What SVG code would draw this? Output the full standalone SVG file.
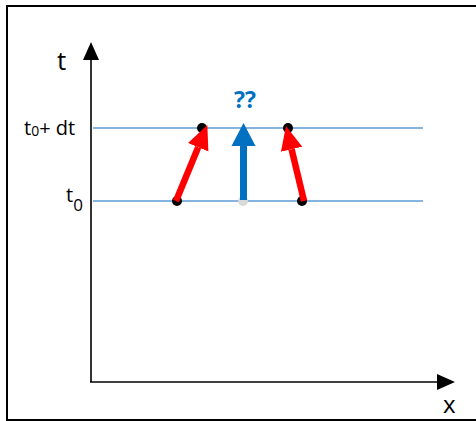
<svg xmlns="http://www.w3.org/2000/svg" width="476" height="421" viewBox="0 0 476 421">
<style>
.lbl{font-family:"Open Sans","Liberation Sans",sans-serif;fill:#000}
.grid{stroke:#5B9BD5;stroke-width:1.3;fill:none}
.axis{stroke:#000;stroke-width:1.6;fill:none}
.red{stroke:#FF0000;stroke-width:6.5;fill:none}
.blue{stroke:#0070C0;stroke-width:7;fill:none}
.dot{fill:#000}
</style>
<defs>
<marker id="ah" markerUnits="userSpaceOnUse" markerWidth="20" markerHeight="20" refX="0" refY="8" orient="auto" viewBox="0 0 20 16"><path d="M0,0 L18,8 L0,16 z" fill="#000"/></marker>
<marker id="rh" markerUnits="userSpaceOnUse" markerWidth="26" markerHeight="24" refX="0" refY="11" orient="auto" viewBox="0 0 26 22"><path d="M0,0 L24,11 L0,22 z" fill="#FF0000"/></marker>
<marker id="bh" markerUnits="userSpaceOnUse" markerWidth="26" markerHeight="26" refX="0" refY="12" orient="auto" viewBox="0 0 26 24"><path d="M0,0 L23,12 L0,24 z" fill="#0070C0"/></marker>
</defs>
<rect x="7" y="6" width="480" height="414" fill="#fff" stroke="#000" stroke-width="2"/>
<g id="gridlines">
<line class="grid" x1="93" y1="128" x2="423" y2="128"/>
<line class="grid" x1="93" y1="201" x2="423" y2="201"/>
</g>
<g id="axes">
<path class="axis" d="M91,382 L91,60" marker-end="url(#ah)"/>
<path class="axis" d="M90,382 L437,382" marker-end="url(#ah)"/>
</g>
<g id="labels">
<text class="lbl" x="57" y="70" font-size="26">t</text>
<text class="lbl" x="24" y="135" font-size="20">t<tspan font-size="14" dy="1">0</tspan><tspan dy="-1">+ dt</tspan></text>
<text class="lbl" x="66" y="202" font-size="20">t<tspan font-size="17" dy="9">0</tspan></text>
<text class="lbl" x="443" y="413" font-size="24">x</text>
<text x="245" y="108" font-size="23" font-weight="bold" fill="#0070C0" text-anchor="middle" font-family="Open Sans, Liberation Sans, sans-serif">??</text>
</g>
<g id="points">
<circle class="dot" cx="177" cy="201" r="5"/>
<circle class="dot" cx="202" cy="128" r="5"/>
<circle class="dot" cx="288" cy="128" r="5"/>
<circle class="dot" cx="302" cy="201" r="5"/>
<circle cx="243" cy="201" r="5" fill="#D9D9D9"/>
</g>
<g id="connectors">
<path class="red" d="M176,201 L198.2,147.3" marker-end="url(#rh)"/>
<path class="red" d="M304,201 L291.6,149.3" marker-end="url(#rh)"/>
<path class="blue" d="M243.5,200 L243.5,146" marker-end="url(#bh)"/>
</g>
</svg>
